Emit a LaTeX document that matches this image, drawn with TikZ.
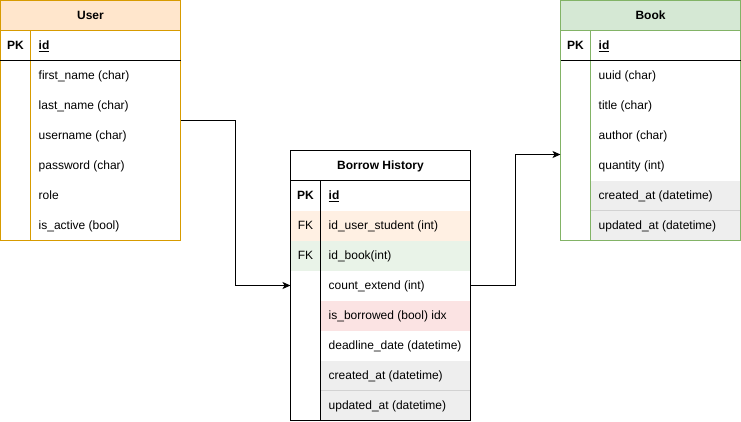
\documentclass[tikz,border=0pt]{standalone}
\usepackage{fontspec}
\setmainfont{Liberation Sans}
\usetikzlibrary{arrows.meta, positioning}
\definecolor{userline}{HTML}{D79B00}
\definecolor{userfill}{HTML}{FFE6CC}
\definecolor{bookline}{HTML}{82B366}
\definecolor{bookfill}{HTML}{D5E8D4}
\definecolor{fkuser}{HTML}{FFF0E3}
\definecolor{fkbook}{HTML}{E9F3E8}
\definecolor{idxfill}{HTML}{FBE3E3}
\definecolor{timefill}{HTML}{EEEEEE}
\tikzset{
  tbl/.style={anchor=north west, inner sep=0pt, outer sep=0pt, line width=1pt},
  field/.style={anchor=base west, inner sep=0pt, font=\fontsize{12}{14}\selectfont},
  keycol/.style={anchor=base, inner sep=0pt, font=\fontsize{12}{14}\selectfont},
  title/.style={anchor=base, inner sep=0pt, font=\fontsize{12}{14}\selectfont\bfseries},
  link/.style={line width=1pt, -{Stealth[length=8pt, width=7pt, inset=2pt]}}
}

\begin{document}
\begin{tikzpicture}[x=1pt, y=-1pt]
  \useasboundingbox (-0.5,-0.5) rectangle (740.5,420.5);
  % User table
  \fill[userfill] (0,0) rectangle (180,30);
  \node[tbl, draw=userline, minimum width=180pt, minimum height=240pt] (user) at (0,0) {};
  \draw[userline] (0,30) -- (180,30);
  \draw[userline] (30,30) -- (30,240);
  \draw (0,60) -- (180,60);
  \node[title] (user-h) at (90,19) {User};
  \node[title] (user-pk) at (15,49) {PK};
  \node[field] (user-id) at (38,49) {\textbf{\underline{id}}};
  \foreach \txt [count=\i] in {first\_name (char), last\_name (char), username (char), password (char), role, is\_active (bool)}
    \node[field] (user-\i) at (38,49+30*\i) {\txt};

  % Book table
  \fill[bookfill] (560,0) rectangle (740,30);
  \fill[timefill] (590,180) rectangle (740,240);
  \draw[gray!35] (590,210) -- (740,210);
  \node[tbl, draw=bookline, minimum width=180pt, minimum height=240pt] (book) at (560,0) {};
  \draw[bookline] (560,30) -- (740,30);
  \draw[bookline] (590,30) -- (590,240);
  \draw (560,60) -- (740,60);
  \node[title] (book-h) at (650,19) {Book};
  \node[title] (book-pk) at (575,49) {PK};
  \node[field] (book-id) at (598,49) {\textbf{\underline{id}}};
  \foreach \txt [count=\i] in {uuid (char), title (char), author (char), quantity (int), created\_at (datetime), updated\_at (datetime)}
    \node[field] (book-\i) at (598,49+30*\i) {\txt};

  % Borrow History table
  \fill[fkuser] (290,210) rectangle (470,240);
  \fill[fkbook] (290,240) rectangle (470,270);
  \fill[idxfill] (320,300) rectangle (470,330);
  \fill[timefill] (320,360) rectangle (470,420);
  \draw[gray!35] (320,390) -- (470,390);
  \node[tbl, draw, minimum width=180pt, minimum height=270pt] (borrow) at (290,150) {};
  \draw (290,180) -- (470,180);
  \draw (320,180) -- (320,420);
  \node[title] (borrow-h) at (380,169) {Borrow History};
  \node[title] (borrow-pk) at (305,199) {PK};
  \node[field] (borrow-id) at (328,199) {\textbf{\underline{id}}};
  \node[keycol] (borrow-fk1) at (305,229) {FK};
  \node[keycol] (borrow-fk2) at (305,259) {FK};
  \foreach \txt [count=\i] in {id\_user\_student (int), id\_book(int), count\_extend (int), is\_borrowed (bool) idx, deadline\_date (datetime), created\_at (datetime), updated\_at (datetime)}
    \node[field] (borrow-\i) at (328,199+30*\i) {\txt};

  % links
  \coordinate (bookin) at ([yshift=-34pt]book.west);
  \draw[link] (user.east) -- ++(55,0) |- (borrow.west);
  \draw[link] (borrow.east) -- ++(45,0) |- (bookin);
\end{tikzpicture}
\end{document}
